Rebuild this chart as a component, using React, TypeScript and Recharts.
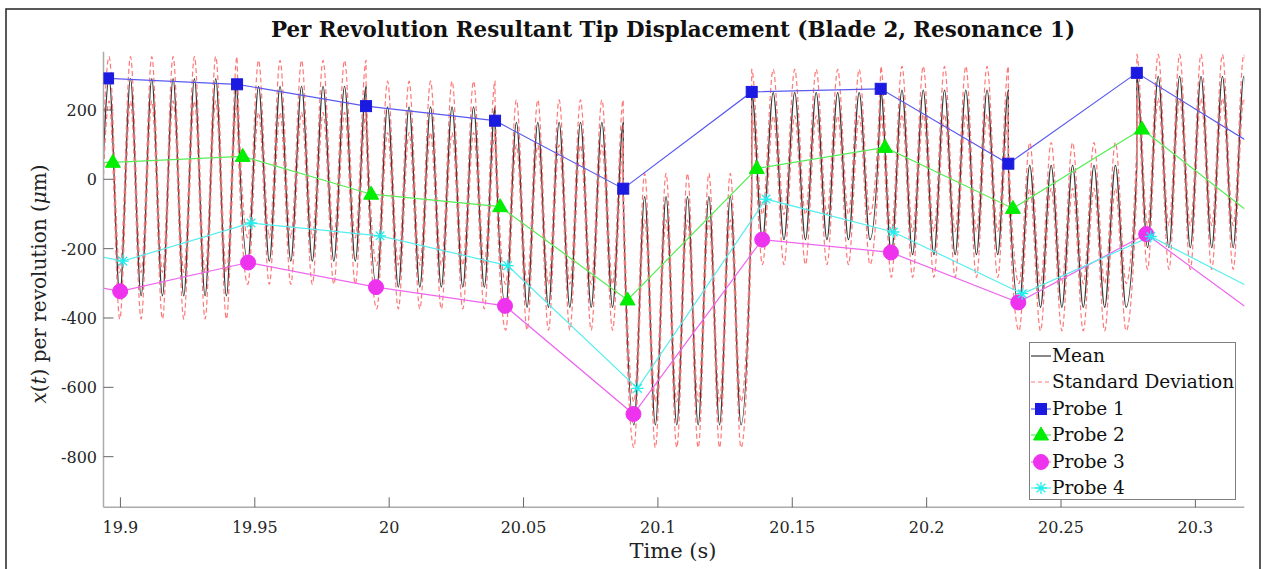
import { LineChart, Line, XAxis, YAxis } from "recharts";

// revolution starts (s) and per-revolution extrema of the mean response (um)
const revStart = [19.8958, 19.9434, 19.9914, 20.0394, 20.0871, 20.1349, 20.1829, 20.2304, 20.2782];
const revPeak = [290, 268, 209, 164, -50, 250, 257, 40, 297];
const revTrough = [-336, -236, -311, -369, -708, -174, -217, -369, -197];
const stdPeak = [64, 75, 74, 65, 67, 67, 69, 66, 63];
const stdTrough = [67, 67, 63, 66, 66, 72, 66, 68, 63];
const cyclesPerRev = 6;

const probe1Time = [19.8954, 19.9434, 19.9914, 20.0394, 20.0871, 20.1349, 20.1829, 20.2304, 20.2782, 20.3262];
const probe1Val = [291, 274, 211, 169, -27, 252, 261, 45, 307, 77];
const probe2Time = [19.8492, 19.8972, 19.9455, 19.9933, 20.0413, 20.0887, 20.1368, 20.1845, 20.2321, 20.2801, 20.328];
const probe2Val = [45, 49, 66, -43, -79, -348, 31, 92, -84, 145, -144];
const probe3Time = [19.8519, 19.8999, 19.9475, 19.9951, 20.0431, 20.0909, 20.1388, 20.1867, 20.2341, 20.2817, 20.3297];
const probe3Val = [-253, -323, -240, -311, -365, -677, -174, -211, -355, -158, -431];
const probe4Time = [19.8529, 19.9009, 19.9486, 19.9966, 20.0441, 20.0924, 20.1402, 20.1876, 20.2356, 20.2834, 20.3314];
const probe4Val = [-163, -236, -126, -163, -249, -603, -57, -152, -330, -165, -356];

const xTickLabels = ["19.9", "19.95", "20", "20.05", "20.1", "20.15", "20.2", "20.25", "20.3"];
const yTickLabels = ["-800", "-600", "-400", "-200", "0", "200"];
const xTicks = xTickLabels.map(Number);
const yTicks = yTickLabels.map(Number);

const SERIF = "DejaVu Serif";
const C1 = "#1a1ae0", L1 = "#5a5af0";
const C2 = "#00ee00", L2 = "#55ee55";
const C3 = "#ee33ee", L3 = "#ee66ee";
const C4 = "#22eeee", L4 = "#55eeee";
const RED = "#ff7878";
const MEAN = "#383838";

type Row = { t: number; mean: number; up: number; dn: number };

function buildMean(): Row[] {
  const rows: Row[] = [];
  const h0 = (revStart[1] - revStart[0]) / (2 * cyclesPerRev);
  rows.push({ t: revStart[0] - h0, mean: revTrough[0], up: revTrough[0] + stdTrough[0], dn: revTrough[0] - stdTrough[0] });
  revStart.forEach((start, k) => {
    const next = k + 1 < revStart.length ? revStart[k + 1] : start + (start - revStart[k - 1]);
    const half = (next - start) / (2 * cyclesPerRev);
    for (let j = 0; j <= 2 * cyclesPerRev; j++) {
      const peak = j % 2 === 0;
      const m = peak ? revPeak[k] : revTrough[k];
      const s = peak ? stdPeak[k] : stdTrough[k];
      rows.push({ t: start + j * half, mean: m, up: m + s, dn: m - s });
    }
  });
  return rows;
}

const meanRows = buildMean();
const zip = (ts: number[], vs: number[]) => ts.map((t, i) => ({ t, v: vs[i] }));
const p1 = zip(probe1Time, probe1Val);
const p2 = zip(probe2Time, probe2Val);
const p3 = zip(probe3Time, probe3Val);
const p4 = zip(probe4Time, probe4Val);

const Square = ({ cx, cy, c }: any) => <rect x={cx - 5.5} y={cy - 5.5} width={11} height={11} fill={c} stroke={c} />;
const Tri = ({ cx, cy, c }: any) => (
  <polygon points={`${cx},${cy - 8} ${cx - 7.5},${cy + 5} ${cx + 7.5},${cy + 5}`} fill={c} stroke={c} />
);
const Circ = ({ cx, cy, c }: any) => <circle cx={cx} cy={cy} r={7.5} fill={c} stroke={c} />;
const Star = ({ cx, cy, c }: any) => (
  <path
    d={`M${cx - 6},${cy}H${cx + 6}M${cx},${cy - 6}V${cy + 6}M${cx - 4.3},${cy - 4.3}L${cx + 4.3},${cy + 4.3}M${cx - 4.3},${cy + 4.3}L${cx + 4.3},${cy - 4.3}`}
    stroke={c}
    strokeWidth={1.3}
    fill="none"
  />
);

const mk = (Comp: any, c: string) => (props: any) => {
  const { cx, cy, index } = props;
  if (cx == null || cy == null) return <g key={`m${index}`} />;
  return (
    <g key={`m${index}`}>
      <Comp cx={cx} cy={cy} c={c} />
    </g>
  );
};

const XTick = (props: any) => {
  const { x, y, payload } = props;
  const i = xTicks.findIndex((v) => Math.abs(v - payload.value) < 1e-6);
  return (
    <g>
      <line x1={x} x2={x} y1={y} y2={y - 10} stroke="#666" strokeWidth={1} />
      <text x={x} y={y + 26} textAnchor="middle" fontFamily={SERIF} fontSize={16} fill="#262626">
        {xTickLabels[i]}
      </text>
    </g>
  );
};

const YTick = (props: any) => {
  const { x, y, payload } = props;
  const i = yTicks.findIndex((v) => Math.abs(v - payload.value) < 1e-6);
  return (
    <g>
      <line x1={x} x2={x + 10} y1={y} y2={y} stroke="#666" strokeWidth={1} />
      <text x={x - 6.5} y={y + 6} textAnchor="end" fontFamily={SERIF} fontSize={16} fill="#262626">
        {yTickLabels[i]}
      </text>
    </g>
  );
};

const legendItems = [
  { name: "Mean", line: MEAN, dash: undefined as string | undefined, M: null as any, c: "" },
  { name: "Standard Deviation", line: RED, dash: "4 3", M: null, c: "" },
  { name: "Probe 1", line: L1, dash: undefined, M: Square, c: C1 },
  { name: "Probe 2", line: L2, dash: undefined, M: Tri, c: C2 },
  { name: "Probe 3", line: L3, dash: undefined, M: Circ, c: C3 },
  { name: "Probe 4", line: L4, dash: undefined, M: Star, c: C4 },
];

function LegendBox() {
  return (
    <div
      style={{
        position: "absolute",
        left: 1029,
        top: 342,
        width: 207,
        height: 158,
        border: "1px solid #808080",
        background: "#fff",
        boxSizing: "border-box",
      }}
    >
      {legendItems.map((it, i) => (
        <div key={it.name} style={{ position: "absolute", left: 0, top: i * 26.4, height: 26, display: "flex", alignItems: "center" }}>
          <svg width={22} height={26} style={{ display: "block" }}>
            <line x1={1} x2={21} y1={13} y2={13} stroke={it.line} strokeWidth={1.2} strokeDasharray={it.dash} />
            {it.M ? <it.M cx={11} cy={13} c={it.c} /> : null}
          </svg>
          <span style={{ fontFamily: SERIF, fontSize: 18.5, color: "#111", whiteSpace: "nowrap", lineHeight: "26px" }}>{it.name}</span>
        </div>
      ))}
    </div>
  );
}

export default function App() {
  return (
    <div style={{ position: "absolute", left: 0, top: 0, width: 1265, height: 569, background: "#fff", overflow: "hidden" }}>
      <LineChart width={1265} height={569} margin={{ top: 51.7, right: 20.7, bottom: 21.7, left: 0 }}>
        <XAxis
          type="number"
          dataKey="t"
          domain={[19.8937, 20.3182]}
          allowDataOverflow
          ticks={xTicks}
          interval={0}
          height={40}
          tickLine={false}
          tickSize={0}
          tickMargin={0}
          tick={<XTick />}
          axisLine={{ stroke: "#ababab", strokeWidth: 1.5 }}
        />
        <YAxis
          type="number"
          domain={[-946, 368]}
          allowDataOverflow
          ticks={yTicks}
          interval={0}
          width={103.5}
          tickLine={false}
          tickSize={0}
          tickMargin={0}
          tick={<YTick />}
          axisLine={{ stroke: "#ababab", strokeWidth: 1.5 }}
        />
        <Line data={meanRows} dataKey="mean" type="monotone" stroke={MEAN} strokeWidth={1.3} dot={false} isAnimationActive={false} />
        <Line data={meanRows} dataKey="up" type="monotone" stroke={RED} strokeWidth={1.2} strokeDasharray="5 3" dot={false} isAnimationActive={false} />
        <Line data={meanRows} dataKey="dn" type="monotone" stroke={RED} strokeWidth={1.2} strokeDasharray="5 3" dot={false} isAnimationActive={false} />
        <Line data={p1} dataKey="v" type="linear" stroke={L1} strokeWidth={1.2} dot={mk(Square, C1)} isAnimationActive={false} />
        <Line data={p2} dataKey="v" type="linear" stroke={L2} strokeWidth={1.2} dot={mk(Tri, C2)} isAnimationActive={false} />
        <Line data={p3} dataKey="v" type="linear" stroke={L3} strokeWidth={1.2} dot={mk(Circ, C3)} isAnimationActive={false} />
        <Line data={p4} dataKey="v" type="linear" stroke={L4} strokeWidth={1.2} dot={mk(Star, C4)} isAnimationActive={false} />
      </LineChart>
      <svg width={1265} height={569} style={{ position: "absolute", left: 0, top: 0, pointerEvents: "none" }}>
        <rect x={6} y={9} width={1254} height={620} fill="none" stroke="#222" strokeWidth={1.5} />
        <text x={673} y={37} textAnchor="middle" fontFamily={SERIF} fontWeight="bold" fontSize={21.4} fill="#111">
          Per Revolution Resultant Tip Displacement (Blade 2, Resonance 1)
        </text>
        <text x={673} y={558} textAnchor="middle" fontFamily={SERIF} fontSize={21} fill="#222">
          Time (s)
        </text>
        <text x={46} y={284} transform="rotate(-90 46 284)" textAnchor="middle" fontFamily={SERIF} fontSize={20} fill="#222">
          <tspan fontStyle="italic">x</tspan>(<tspan fontStyle="italic">t</tspan>) per revolution (<tspan fontStyle="italic">μ</tspan>m)
        </text>
      </svg>
      <LegendBox />
    </div>
  );
}
